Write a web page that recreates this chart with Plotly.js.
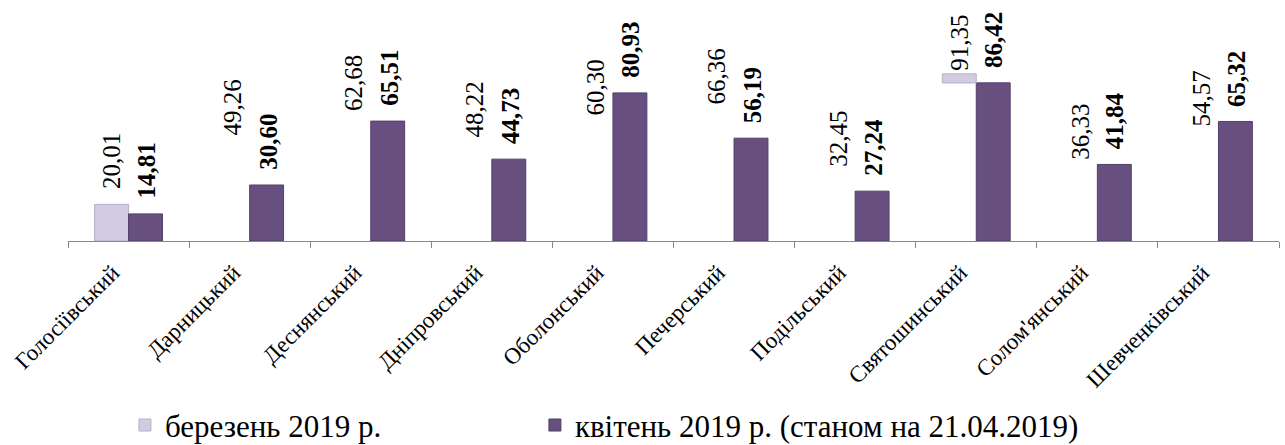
<!DOCTYPE html>
<html>
<head>
<meta charset="utf-8">
<script src="https://cdn.plot.ly/plotly-3.0.1.min.js"></script>
<style>html,body{margin:0;padding:0;background:#fff;}#chart{width:1285px;height:445px;}</style>
</head>
<body>
<div id="chart"></div>
<script>
const categories = ['Голосіївський','Дарницький','Деснянський','Дніпровський','Оболонський','Печерський','Подільський','Святошинський',"Солом'янський",'Шевченківський'];
const seriesNames = ['березень 2019 р.', 'квітень 2019 р. (станом на 21.04.2019)'];
const march = [20.01, 49.26, 62.68, 48.22, 60.30, 66.36, 32.45, 91.35, 36.33, 54.57];
const april = [14.81, 30.60, 65.51, 44.73, 80.93, 56.19, 27.24, 86.42, 41.84, 65.32];

// styling (not data): which light bars are rendered in the reference picture
const marchOpacity = [1, 0, 0, 0, 0, 0, 0, 0, 0, 0];
const capIndex = 7;      // only the top cap of this light bar is visible
const capHeight = 5;
const labelCap = 85;     // labels pushed down to fit inside the chart area

const fmt = v => v.toFixed(2).replace('.', ',');
const FONT = 'Liberation Serif, Times New Roman, serif';
const lightColor = '#d3cbe1';
const purpleColor = '#67507f';

const traces = [
  {
    type: 'bar', name: seriesNames[0], x: categories, y: march,
    offsetgroup: 'a', legendwidth: 365,
    marker: {color: lightColor, opacity: marchOpacity, line: {color: '#b9afc9', width: 1}},
    hoverinfo: 'x+y'
  },
  {
    type: 'bar', name: seriesNames[1], x: categories, y: april,
    offsetgroup: 'b', legendwidth: 560,
    marker: {color: purpleColor, line: {color: '#523f68', width: 1}},
    hoverinfo: 'x+y'
  },
  {
    type: 'bar', showlegend: false, x: [categories[capIndex]], y: [capHeight],
    base: [march[capIndex] - capHeight], offsetgroup: 'a',
    marker: {color: lightColor, line: {color: '#b9afc9', width: 1}},
    hoverinfo: 'skip'
  }
];

const annotations = [];
categories.forEach((c, i) => {
  annotations.push({
    x: c, y: Math.min(march[i], labelCap), xref: 'x', yref: 'y',
    text: fmt(march[i]), showarrow: false, textangle: -90,
    xanchor: 'center', yanchor: 'bottom', xshift: -17, yshift: 13,
    font: {family: FONT, size: 25, color: '#000'}
  });
  annotations.push({
    x: c, y: april[i], xref: 'x', yref: 'y',
    text: '<b>' + fmt(april[i]) + '</b>', showarrow: false, textangle: -90,
    xanchor: 'center', yanchor: 'bottom', xshift: 18, yshift: 13,
    font: {family: FONT, size: 25, color: '#000'}
  });
});

const layout = {
  width: 1285, height: 445,
  margin: {l: 68, r: 6, t: 58, b: 204, autoexpand: false},
  paper_bgcolor: '#fff', plot_bgcolor: '#fff',
  font: {family: FONT, color: '#000'},
  barmode: 'group', bargap: 0.44, bargroupgap: 0,
  showlegend: true,
  legend: {
    orientation: 'h', x: 0.047, xanchor: 'left', y: -0.86, yanchor: 'top',
    font: {family: FONT, size: 31, color: '#000'},
    entrywidthmode: 'pixels', traceorder: 'normal'
  },
  xaxis: {
    type: 'category', showline: true, linecolor: '#888', linewidth: 1,
    ticks: 'outside', tickson: 'boundaries', ticklen: 6, tickcolor: '#888',
    tickangle: -45, tickfont: {family: FONT, size: 23, color: '#000'},
    ticklabelstandoff: 8, ticklabelshift: -16,
    showgrid: false, zeroline: false
  },
  yaxis: {
    range: [0, 100], visible: false, showgrid: false, zeroline: false
  },
  annotations: annotations
};

Plotly.newPlot('chart', traces, layout, {displayModeBar: false, staticPlot: true});
</script>
</body>
</html>
